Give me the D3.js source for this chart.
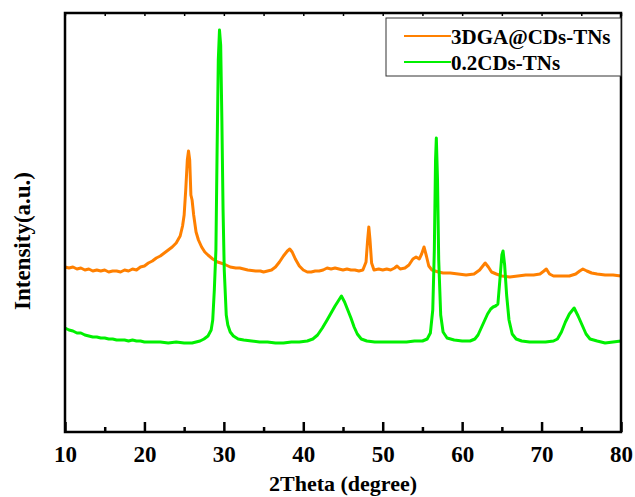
<!DOCTYPE html>
<html>
<head>
<meta charset="utf-8">
<script src="https://cdn.jsdelivr.net/npm/d3@7"></script>
<style>
  body { margin: 0; background: #fff; }
  svg text { font-family: "Liberation Serif", "Times New Roman", "DejaVu Serif", serif !important; font-weight: bold; }
</style>
</head>
<body>
<svg id="chart"></svg>
<script>
// XRD patterns (2theta in degree, intensity in a.u.)
const seriesNames = ["3DGA@CDs-TNs", "0.2CDs-TNs"]
const seriesColors = ["#ff8000", "#00f000"]

const orangeTheta = [10,10.5,11,11.5,12,12.5,13,13.5,14,14.5,15,15.5,16,16.5,17,17.5,18,18.5,19,19.5,20,20.5,21,21.5,22,22.5,23,23.5,24,24.5,24.8,25.0,25.2,25.4,25.55,25.7,25.85,26.0,26.2,26.5,26.8,27.2,27.6,28,28.6,29.2,30,30.8,31.5,32,33,34,34.6,35,35.5,36,36.5,37,37.5,38,38.3,38.6,39,39.5,40,40.5,41,41.5,42,42.5,43,43.5,44,44.5,45,45.5,46,46.5,47,47.5,47.9,48.1,48.25,48.4,48.6,48.9,49.5,50,50.5,51,51.5,51.8,52.2,52.8,53.3,53.8,54.2,54.6,54.9,55.2,55.5,55.8,56.2,57,57.6,58.5,59.5,60.5,61.5,62.2,62.6,62.9,63.3,63.7,64.3,65,66,67,68,69,69.8,70.3,70.6,71,71.5,72.5,73.5,74.3,74.8,75.2,75.7,76.3,77,78,79,80]
const orangeValues = [1650,1640,1650,1630,1640,1620,1630,1610,1620,1610,1620,1600,1610,1610,1600,1620,1610,1630,1620,1650,1660,1690,1710,1740,1760,1790,1820,1850,1890,1960,2060,2170,2420,2720,2810,2720,2370,2320,2170,2000,1920,1850,1800,1770,1730,1700,1680,1650,1640,1640,1620,1610,1610,1600,1610,1620,1650,1700,1760,1810,1830,1800,1730,1660,1620,1600,1600,1610,1610,1620,1640,1630,1640,1630,1620,1630,1620,1620,1610,1620,1700,1920,2050,1920,1690,1620,1630,1620,1630,1620,1640,1660,1630,1640,1670,1730,1750,1730,1780,1850,1760,1660,1620,1600,1590,1590,1580,1570,1580,1620,1660,1690,1650,1600,1580,1560,1550,1560,1570,1570,1580,1610,1630,1580,1560,1560,1560,1580,1610,1630,1610,1590,1580,1570,1570,1560]

const greenTheta = [10,10.5,11,11.5,12,12.5,13,13.5,14,14.5,15,15.5,16,16.5,17,17.5,18,18.5,19,19.5,20,21,22,23,24,25,26,26.5,27,27.5,28,28.4,28.6,28.8,29.0,29.15,29.3,29.45,29.6,29.75,29.9,30.05,30.3,30.5,30.8,31.2,31.8,32.5,33.5,34.5,35.5,36.5,37.5,38.5,39.5,40.5,41.2,41.8,42.4,43,43.5,44,44.4,44.8,45.2,45.6,46,46.4,46.8,47.3,48,49,50,51,52,53,54,55,55.6,56,56.3,56.5,56.65,56.75,56.9,57.05,57.3,57.6,58.1,59,60,61,61.6,62,62.4,62.8,63.2,63.6,63.9,64.2,64.5,64.75,65.0,65.15,65.35,65.6,65.9,66.3,66.8,67.5,68.5,69.5,70.5,71.5,72,72.5,73,73.5,74.1,74.6,75.1,75.6,76.1,77,78,79,80]
const greenValues = [1040,1020,1010,990,990,970,960,950,950,940,940,930,930,920,920,920,910,920,910,910,900,900,900,890,900,890,890,900,910,930,960,1020,1120,1420,1820,2820,3720,4020,3870,3120,2220,1620,1170,1070,1000,960,930,920,910,900,900,890,890,900,900,910,930,970,1040,1120,1190,1260,1310,1360,1300,1220,1140,1050,980,930,910,900,900,900,900,900,910,910,930,990,1220,1820,2720,2940,2520,1720,1170,1000,940,920,910,910,930,970,1040,1110,1180,1230,1250,1260,1280,1520,1770,1810,1670,1370,1120,980,930,910,900,900,900,910,930,1000,1100,1180,1240,1160,1070,980,930,910,890,900,910]

const xTicks = [10,20,30,40,50,60,70,80]
const xMinorTicks = [15,25,35,45,55,65,75]

const width = 635;
const height = 497;
const marginTop = 13;
const marginRight = 14;
const marginBottom = 65;
const marginLeft = 65;

const x = d3.scaleLinear()
          .domain([10,80])
          .range([marginLeft,width-marginRight])

const y = d3.scaleLinear()
          .domain([0,4190])
          .range([height-marginBottom,marginTop])

const svg = d3.select("#chart")
  .attr("width",width)
  .attr("height",height)

const series = [
  {name:seriesNames[0],color:seriesColors[0],data:orangeTheta.map((t,i)=>[t,orangeValues[i]])},
  {name:seriesNames[1],color:seriesColors[1],data:greenTheta.map((t,i)=>[t,greenValues[i]])}
]

const line = d3.line()
  .x(d=>x(d[0]))
  .y(d=>y(d[1]))

svg.append("g")
  .selectAll("path")
  .data(series)
  .join("path")
  .attr("fill","none")
  .attr("stroke",d=>d.color)
  .attr("stroke-width",3)
  .attr("stroke-linejoin","round")
  .attr("d",d=>line(d.data))

// bottom axis, ticks pointing inward
const bottom = svg.append("g")
  .attr("transform",`translate(0,${height-marginBottom})`)
  .call(d3.axisBottom(x).tickValues(xTicks).tickSizeInner(-10).tickSizeOuter(0).tickPadding(14).tickFormat(d3.format("d")))
bottom.select(".domain").remove()
bottom.selectAll(".tick line").attr("stroke","#000").attr("stroke-width",2.5)
bottom.selectAll(".tick text")
  .attr("font-size",23)
  .attr("fill","#000")

svg.append("g")
  .attr("transform",`translate(0,${height-marginBottom})`)
  .call(d3.axisBottom(x).tickValues(xMinorTicks).tickSize(-5).tickFormat(""))
  .call(g=>g.select(".domain").remove())
  .selectAll(".tick line").attr("stroke","#000").attr("stroke-width",2.5)

// top axis, short inward ticks every 5 degrees
svg.append("g")
  .attr("transform",`translate(0,${marginTop})`)
  .call(d3.axisTop(x).tickValues(d3.merge([xTicks,xMinorTicks])).tickSize(-3).tickFormat(""))
  .call(g=>g.select(".domain").remove())
  .selectAll(".tick line").attr("stroke","#000").attr("stroke-width",1.5)

// frame
svg.append("rect")
  .attr("x",marginLeft)
  .attr("y",marginTop)
  .attr("width",width-marginLeft-marginRight)
  .attr("height",height-marginTop-marginBottom)
  .attr("fill","none")
  .attr("stroke","#000")
  .attr("stroke-width",2.5)

// axis titles
svg.append("text")
  .attr("x",343)
  .attr("y",491)
  .attr("text-anchor","middle")
  .attr("font-size",22)
  .text("2Theta (degree)")

svg.append("text")
  .attr("transform","translate(30,241) rotate(-90)")
  .attr("text-anchor","middle")
  .attr("font-size",23)
  .text("Intensity(a.u.)")

// legend
const legend = svg.append("g")
legend.append("rect")
  .attr("x",386)
  .attr("y",18)
  .attr("width",235)
  .attr("height",58)
  .attr("fill","#fff")
  .attr("stroke","#333")
  .attr("stroke-width",1)

const items = legend.selectAll("g")
  .data(series)
  .join("g")
  .attr("transform",(d,i)=>`translate(404,${36+i*26})`)
items.append("line")
  .attr("x1",0).attr("x2",47)
  .attr("stroke",d=>d.color)
  .attr("stroke-width",2)
items.append("text")
  .attr("x",47)
  .attr("y",7.5)
  .attr("font-size",21)
  .text(d=>d.name)
</script>
</body>
</html>
